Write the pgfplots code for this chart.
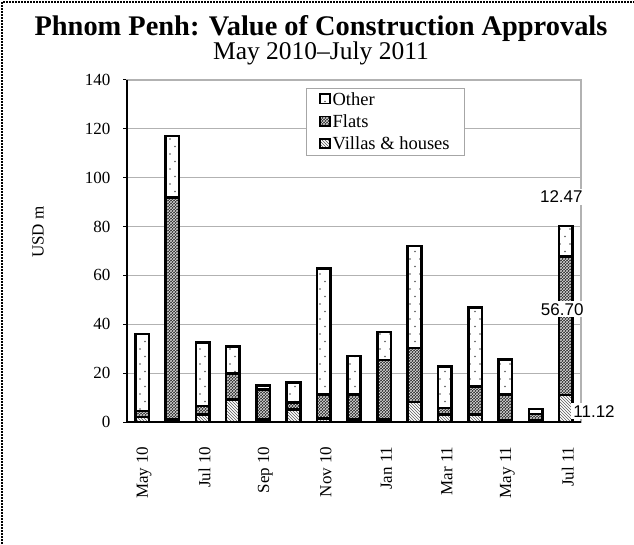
\documentclass[border=0pt]{standalone}
\usepackage{fontspec}
\setmainfont{Liberation Serif}
\newfontfamily\arial{Liberation Sans}
\usepackage{pgfplots}
\pgfplotsset{compat=1.18}
\usetikzlibrary{patterns}

% sparse dots for the "Other" segments
\pgfdeclarepatternformonly{sparse dots}{\pgfqpoint{-1pt}{-1pt}}{\pgfqpoint{6pt}{8.5pt}}{\pgfqpoint{10pt}{15pt}}{%
  \pgfpathcircle{\pgfqpoint{0pt}{0pt}}{0.9pt}
  \pgfpathcircle{\pgfqpoint{5pt}{7.5pt}}{0.9pt}
  \pgfusepath{fill}}

\pgfplotstableread{
x villas flats other
0  2.0   2.5  31.5
1  1.0  91.0  25.0
2  3.0   3.5  26.0
3  9.3  10.5  11.2
4  1.0  12.3   1.7
5  5.2   2.8   8.1
6  1.5   9.7  51.7
7  1.0  10.2  15.8
8  1.0  24.3  11.5
9  8.2  22.1  41.8
10 3.0   2.7  17.1
11 3.0  11.6  32.3
12 0.8  10.5  14.3
13 0.6   2.6   2.2
14 11.12 56.70 12.47
}\approvals

\begin{document}
\begin{tikzpicture}[x=1pt,y=1pt]
\useasboundingbox (0,0) rectangle (634,544);
\draw[line width=2pt, dash pattern=on 2pt off 1pt] (2,0) -- (2,542) -- (634,542);
\node[anchor=base, font=\fontsize{28.4}{32}\selectfont\bfseries] at (321,508) {Phnom Penh: Value of Construction Approvals};
\node[anchor=base, font=\fontsize{25.5}{30}\selectfont] at (321,484) {May 2010--July 2011};
\node[rotate=90, font=\fontsize{17}{20}\selectfont] at (38,312) {USD m};

\begin{axis}[
  at={(127pt,122pt)}, anchor=south west,
  scale only axis, width=454pt, height=342pt,
  ybar stacked, bar width=13.5pt,
  xmin=-0.5, xmax=14.5, ymin=0, ymax=140,
  xtick={0,2,...,14},
  xticklabels={May 10,Jul 10,Sep 10,Nov 10,Jan 11,Mar 11,May 11,Jul 11},
  extra x ticks={-0.5,1.5,...,13.5},
  extra x tick labels={},
  extra x tick style={major tick length=5pt, tick style={black, line width=1pt}},
  ytick={0,20,...,140},
  tick align=outside,
  xtick pos=bottom, ytick pos=left,
  major tick length=4pt,
  xtick style={draw=none},
  ytick style={black, line width=1pt},
  ymajorgrids, grid style={gray!60, line width=1pt},
  axis line style={gray!60, line width=1.5pt},
  /pgf/number format/assume math mode=true,
  ticklabel style={font=\fontsize{17}{20}\selectfont},
  yticklabel style={xshift=-9pt},
  xticklabel style={rotate=90, anchor=east, xshift=-17pt, yshift=-2pt},
  clip=false,
  reverse legend,
  legend cell align=left,
  legend image code/.code={\draw[#1, line width=1.7pt] (0pt,-4pt) rectangle (9.5pt,5.5pt);},
  legend style={at={(0.394,0.977)}, anchor=north west, draw=gray!70, line width=1pt,
    font=\fontsize{18.5}{21}\selectfont, row sep=4pt, inner xsep=13pt, inner ysep=2pt},
  every axis plot/.append style={draw=black, line width=2.6pt},
]
\addplot[fill=white, postaction={pattern=north west lines, pattern color=black!65}]
  table[x=x, y=villas] {\approvals};
\addplot[fill=black!85, postaction={pattern=crosshatch, pattern color=white!85!black}]
  table[x=x, y=flats] {\approvals};
\addplot[fill=white, postaction={pattern=sparse dots, pattern color=gray!70!black}]
  table[x=x, y=other] {\approvals};
\legend{Villas \& houses, Flats, Other}

\coordinate (lo) at (axis cs:13.85,92.1);
\coordinate (lf) at (axis cs:13.88,46.1);
\coordinate (lv) at (axis cs:14.93,4.4);
\end{axis}
\draw[black, line width=1.5pt] (127,464) -- (127,122) -- (581,122);
\begin{scope}[every node/.style={fill=white, inner sep=2pt, font=\arial\fontsize{17}{20}\selectfont}]
\node at (lo) {12.47};
\node at (lf) {56.70};
\node at (lv) {11.12};
\end{scope}
\end{tikzpicture}
\end{document}
